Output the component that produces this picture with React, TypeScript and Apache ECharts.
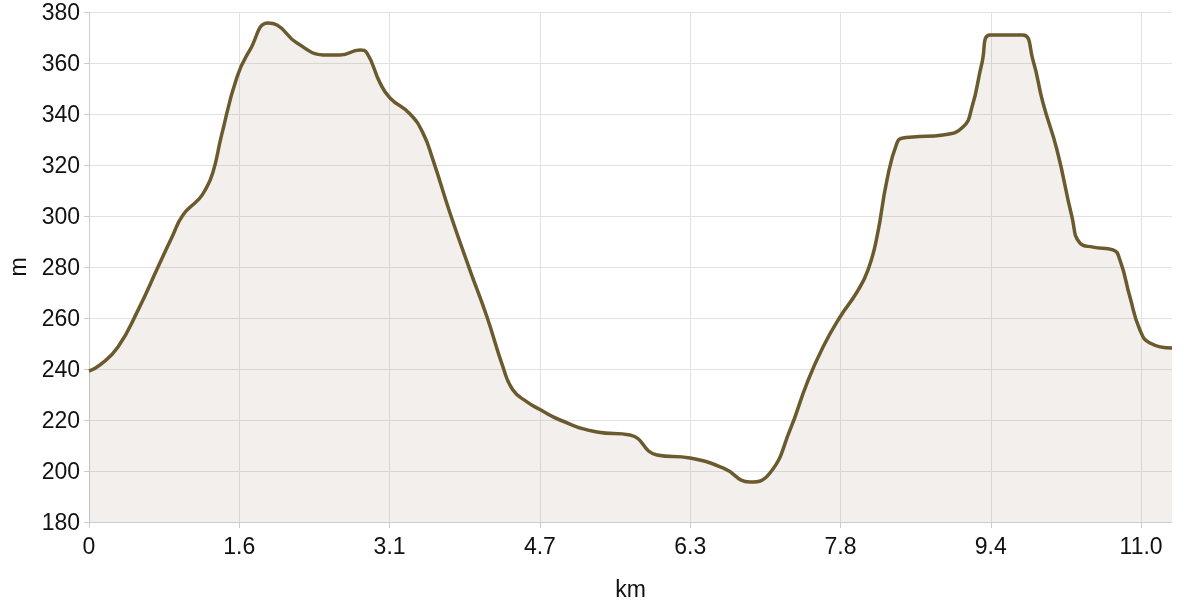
import React, { useEffect, useRef } from "react";
import * as echarts from "echarts";

const distanceKm = [
  0, 0.115, 0.302, 0.511, 0.719, 0.865, 0.979, 1.136, 1.2, 1.29, 1.38, 1.542, 1.677, 1.865, 1.959,
  2.167, 2.48, 2.615, 2.824, 2.897, 3.032, 3.136, 3.345, 3.48, 3.584, 3.761, 3.969, 4.147,
  4.313, 4.417, 4.563, 4.699, 4.907, 5.293, 5.637, 5.918, 6.262, 6.606, 6.887, 7.095,
  7.304, 7.481, 7.648, 7.825, 8.002, 8.116, 8.21, 8.314, 8.418, 8.481, 8.585, 8.898,
  9.106, 9.2, 9.304, 9.387, 9.56, 9.731, 9.835, 9.94, 10.086, 10.242, 10.325, 10.461, 10.669,
  10.742, 10.846, 10.95, 11.054, 11.284,
];

const elevationM = [
  239.2, 241.6, 248.6, 263.1, 280.0, 291.8, 300.4, 306.3, 309.5, 317.0, 331.5, 354.5, 365.1, 375.7,
  374.9, 367.8, 363.1, 363.1, 365.1, 363.9, 352.2, 346.3, 340.0, 332.5, 322.0, 301.2, 278.8,
  260.4, 240.8, 231.8, 227.1, 224.1, 220.0, 215.3, 214.1, 206.3, 205.1, 201.2, 195.7,
  199.2, 216.1, 234.5, 248.6, 260.4, 270.2, 278.8, 291.8, 314.1, 328.6, 330.6, 331.0,
  331.8, 334.9, 342.7, 360.0, 371.0, 371.0, 371.0, 361.2, 344.3, 325.9, 299.6, 289.4, 287.8,
  286.7, 282.7, 268.2, 255.3, 250.2, 248.2,
];

const xTickValues = [0, 1.566, 3.132, 4.698, 6.264, 7.83, 9.396, 10.962];
const xMax = 11.284;
const yMin = 180;
const yMax = 380;
const yStep = 20;

const FONT = "'Liberation Sans', Arial, Helvetica, sans-serif";

export default function App() {
  const ref = useRef<HTMLDivElement>(null);

  useEffect(() => {
    if (!ref.current) return;
    const chart = echarts.init(ref.current, null, { renderer: "svg" });
    const data = distanceKm.map((d, i) => [d, elevationM[i]]);
    chart.setOption({
      animation: false,
      grid: { left: 89, right: 28, top: 12, bottom: 78, outerBoundsMode: "none", containLabel: false },
      xAxis: {
        type: "value",
        min: 0,
        max: xMax,
        name: "km",
        nameLocation: "middle",
        nameGap: 55,
        nameTextStyle: { fontSize: 23, color: "#111", fontFamily: FONT },
        axisLine: { show: true, lineStyle: { color: "#cccccc", width: 1 } },
        axisTick: {
          show: true,
          length: 6,
          customValues: xTickValues,
          lineStyle: { color: "#cccccc" },
        },
        axisLabel: {
          customValues: xTickValues,
          fontSize: 23,
          color: "#111",
          fontFamily: FONT,
          margin: 12,
          formatter: (v: number) => (v === 0 ? "0" : v.toFixed(1)),
        },
        splitLine: { show: true, lineStyle: { color: "#e2e2e2", width: 1 } },
      },
      yAxis: {
        type: "value",
        min: yMin,
        max: yMax,
        interval: yStep,
        name: "m",
        nameLocation: "middle",
        nameGap: 60,
        nameTextStyle: { fontSize: 23, color: "#111", fontFamily: FONT },
        axisLine: { show: true, lineStyle: { color: "#cccccc", width: 1 } },
        axisTick: { show: true, length: 5, lineStyle: { color: "#cccccc" } },
        axisLabel: { fontSize: 23, color: "#111", fontFamily: FONT, margin: 9 },
        splitLine: { show: true, lineStyle: { color: "#e2e2e2", width: 1 } },
      },
      series: [
        {
          type: "line",
          data,
          smooth: 0.5,
          symbol: "none",
          lineStyle: { color: "#6b5a2e", width: 3.5 },
          areaStyle: { color: "rgba(148,122,102,0.17)", origin: "start" },
        },
      ],
    });
    return () => chart.dispose();
  }, []);

  return (
    <div
      ref={ref}
      style={{ position: "fixed", left: 0, top: 0, width: 1200, height: 600 }}
    />
  );
}
